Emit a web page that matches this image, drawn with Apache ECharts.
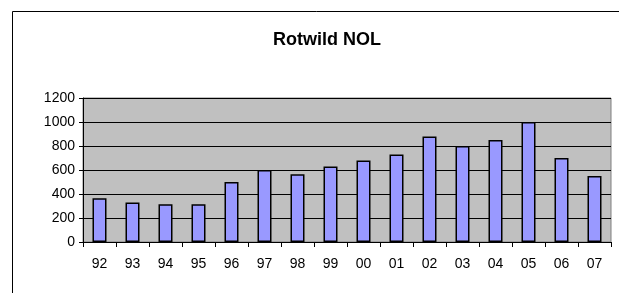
<!DOCTYPE html>
<html>
<head>
<meta charset="utf-8">
<script src="https://cdn.jsdelivr.net/npm/echarts@6/dist/echarts.min.js"></script>
<style>
  html, body { margin: 0; padding: 0; background: #fff; }
  #chart { width: 619px; height: 293px; }
</style>
</head>
<body>
<div id="chart"></div>
<script>
// Rotwild NOL - Jahre und Abschuss
var years = ['92', '93', '94', '95', '96', '97', '98', '99', '00', '01', '02', '03', '04', '05', '06', '07'];
var values = [365, 330, 315, 315, 500, 600, 565, 630, 680, 730, 880, 800, 850, 1000, 700, 550];

var chart = echarts.init(document.getElementById('chart'), null, { renderer: 'canvas' });

var option = {
  backgroundColor: '#ffffff',
  animation: false,
  title: {
    text: 'Rotwild NOL',
    left: 322,
    textAlign: 'center',
    top: 26,
    textStyle: {
      fontFamily: 'Liberation Sans, Arial',
      fontSize: 18,
      fontWeight: 'bold',
      color: '#000'
    }
  },
  graphic: [{
    type: 'rect',
    shape: { x: 12.5, y: 11.5, width: 640, height: 320 },
    style: { fill: 'none', stroke: '#000', lineWidth: 1 },
    silent: true
  }],
  grid: {
    left: 83,
    right: 8,
    top: 98,
    bottom: 51,
    show: true,
    backgroundColor: '#c0c0c0',
    borderColor: '#808080',
    borderWidth: 1
  },
  xAxis: {
    type: 'category',
    data: years,
    axisLine: { lineStyle: { color: '#000', width: 1 } },
    axisTick: { show: true, alignWithLabel: false, length: 5, lineStyle: { color: '#000' } },
    axisLabel: {
      color: '#000',
      fontFamily: 'Liberation Sans, Arial',
      fontSize: 14,
      margin: 15
    }
  },
  yAxis: {
    type: 'value',
    min: 0,
    max: 1200,
    interval: 200,
    axisLine: { show: true, lineStyle: { color: '#000' } },
    axisTick: { show: true, length: 4, lineStyle: { color: '#000' } },
    splitLine: { lineStyle: { color: '#000', width: 1 } },
    axisLabel: {
      color: '#000',
      fontFamily: 'Liberation Sans, Arial',
      fontSize: 14,
      margin: 8,
      formatter: function (v) { return String(v); }
    }
  },
  series: [{
    type: 'bar',
    data: values,
    barWidth: 14,
    itemStyle: {
      color: '#9999ff',
      borderColor: '#000',
      borderWidth: 1.5
    }
  }]
};

chart.setOption(option);
</script>
</body>
</html>
